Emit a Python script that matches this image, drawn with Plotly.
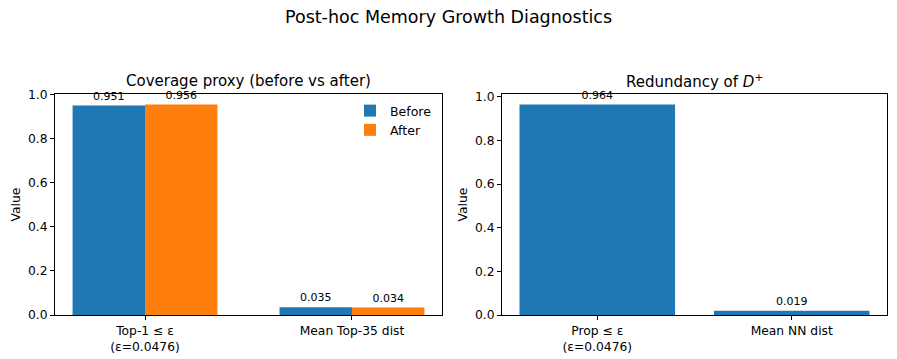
import plotly.graph_objects as go
from plotly.subplots import make_subplots

# data
cov_cats = ['Top-1 ≤ ε<br>(ε=0.0476)', 'Mean Top-35 dist']
cov_before = [0.951, 0.035]
cov_after = [0.956, 0.034]
red_cats = ['Prop ≤ ε<br>(ε=0.0476)', 'Mean NN dist']
red_vals = [0.964, 0.019]

BLUE = '#1f77b4'
ORANGE = '#ff7f0e'
FONT = 'DejaVu Sans'
W, H = 897, 359

fig = make_subplots(rows=1, cols=2)

fig.add_trace(go.Bar(name='Before', x=cov_cats, y=cov_before, marker_color=BLUE,
                     text=[f'{v:.3f}' for v in cov_before], textposition='outside',
                     cliponaxis=False), row=1, col=1)
fig.add_trace(go.Bar(name='After', x=cov_cats, y=cov_after, marker_color=ORANGE,
                     text=[f'{v:.3f}' for v in cov_after], textposition='outside',
                     cliponaxis=False), row=1, col=1)
fig.add_trace(go.Bar(name='D+', x=red_cats, y=red_vals, marker_color=BLUE,
                     text=[f'{v:.3f}' for v in red_vals], textposition='outside',
                     cliponaxis=False, showlegend=False, width=0.8), row=1, col=2)

fig.update_traces(marker_line_width=0, textfont=dict(size=11, color='black'),
                  outsidetextfont=dict(size=11, color='black'))

# pixel geometry of axes boxes
def px_x(p):
  return p / W
def px_y(p):
  return 1 - p / H

ax_common = dict(showline=True, mirror=True, linecolor='black', linewidth=1,
                 ticks='outside', ticklen=4, tickcolor='black', showgrid=False,
                 zeroline=False, tickfont=dict(size=12.3, color='black'),
                 automargin=False)

fig.update_xaxes(domain=[px_x(55), px_x(442)], range=[-0.435, 1.435], **ax_common, row=1, col=1)
fig.update_xaxes(domain=[px_x(502), px_x(887)], range=[-0.49, 1.49], **ax_common, row=1, col=2)
fig.update_yaxes(domain=[px_y(315), px_y(94)], range=[0, 1.0038],
                 tickvals=[0, 0.2, 0.4, 0.6, 0.8, 1.0], tickformat='.1f',
                 title=dict(text='Value', font=dict(size=12.3, color='black'), standoff=4),
                 **ax_common, row=1, col=1)
fig.update_yaxes(domain=[px_y(315), px_y(94)], range=[0, 1.0122],
                 tickvals=[0, 0.2, 0.4, 0.6, 0.8, 1.0], tickformat='.1f',
                 title=dict(text='Value', font=dict(size=12.3, color='black'), standoff=4),
                 **ax_common, row=1, col=2)

annos = [
  dict(text='Post-hoc Memory Growth Diagnostics', x=0.5, y=px_y(17), size=17.5),
  dict(text='Coverage proxy (before vs after)', x=(px_x(55) + px_x(442)) / 2, y=px_y(81), size=15),
  dict(text='Redundancy of <i>D</i><sup>+</sup>', x=(px_x(502) + px_x(887)) / 2, y=px_y(81), size=15),
]
for a in annos:
  fig.add_annotation(text=a['text'], x=a['x'], y=a['y'], xref='paper', yref='paper',
                     xanchor='center', yanchor='middle', showarrow=False,
                     font=dict(size=a['size'], color='black'))

fig.update_layout(width=W, height=H, margin=dict(l=0, r=0, t=0, b=0),
                  barmode='group', bargap=0.3, bargroupgap=0,
                  plot_bgcolor='white', paper_bgcolor='white',
                  font=dict(family=FONT, color='black'),
                  legend=dict(x=px_x(350), y=px_y(96), xanchor='left', yanchor='top',
                              bgcolor='rgba(0,0,0,0)', font=dict(size=12.5),
                              itemwidth=30, tracegroupgap=0))

# page body has a default 8px margin; drop it so the figure fills the window
fig.write_html('out.html', config={'displayModeBar': False},
               post_script="document.body.style.margin='0';")
